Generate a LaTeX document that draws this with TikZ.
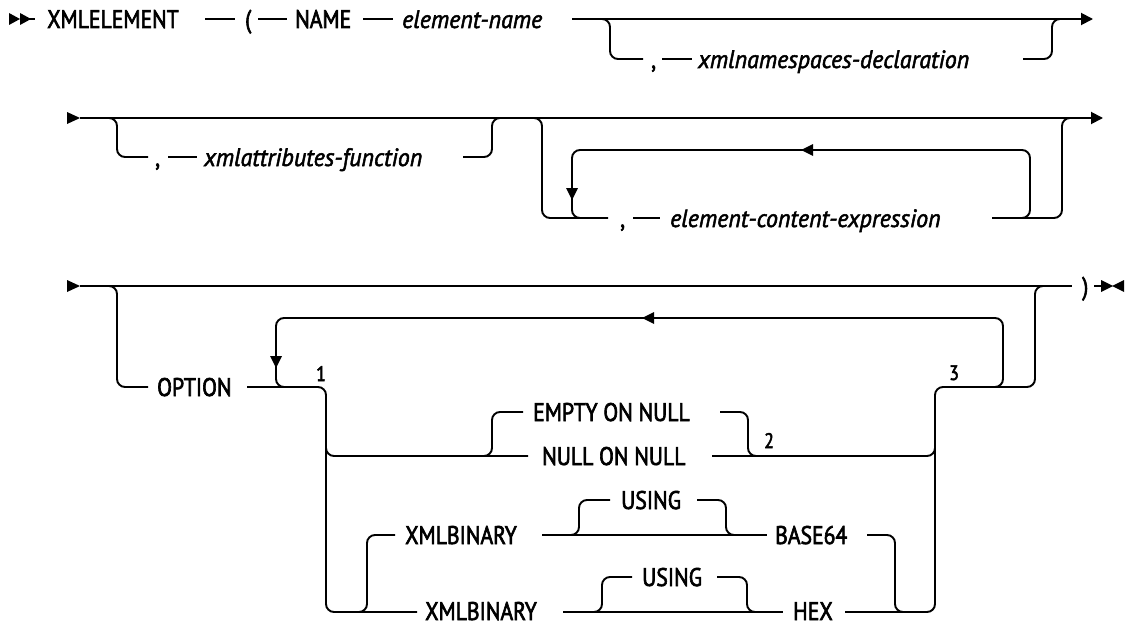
\documentclass[tikz,border=0pt]{standalone}
\usepackage{fontspec}
\setmainfont{PT Sans}
\newfontfamily\kwfont{PT Sans}[FakeStretch=0.85,FakeBold=2.5]
\newfontfamily\varfont{PT Sans}[FakeStretch=0.96,FakeBold=2.0]
\usetikzlibrary{arrows.meta}
\begin{document}
\begin{tikzpicture}[x=1pt,y=-1pt,
  rail/.style={line width=1.9pt, rounded corners=8pt},
  tipend/.style={-{Triangle[length=12pt,width=12pt]}},
  kw/.style={anchor=base west, inner sep=0pt, font=\kwfont\fontsize{25.5}{28}\selectfont},
  var/.style={anchor=base west, inner sep=0pt, font=\varfont\itshape\fontsize{25}{28}\selectfont},
  num/.style={anchor=base west, inner sep=0pt, font=\kwfont\fontsize{21}{24}\selectfont}]
\useasboundingbox (0,0) rectangle (1125,626);

% ---------- row 1 ----------
\fill (9,13) -- (20,19) -- (9,25) -- cycle;
\fill (20,13) -- (31,19) -- (20,25) -- cycle;
\draw[rail] (20,19) -- (35,19);
\node[kw] (xmlel) at (47,28) {XMLELEMENT};
\draw[rail] (205,19) -- (235,19);
\node[kw] (lpar) at (245,28) {(};
\draw[rail] (258,19) -- (287,19);
\node[kw] (name) at (295,28) {NAME};
\draw[rail] (363,19) -- (393,19);
\node[var] (elname) at (402,28) {element-name};
\draw[rail,tipend] (572,19) -- (1093,19);
\draw[rail] (598,19) -- (610,19) -- (610,59) -- (643,59);
\node[kw] (c1) at (651,68) {,};
\draw[rail] (662,59) -- (692,59);
\node[var] (nsdecl) at (698,68) {xmlnamespaces-declaration};
\draw[rail] (1023,59) -- (1052,59) -- (1052,19) -- (1064,19);

% ---------- row 2 ----------
\fill (67,112) -- (80,118) -- (67,124) -- cycle;
\draw[rail,tipend] (80,118) -- (1103,118);
\draw[rail] (105,118) -- (117,118) -- (117,157) -- (148,157);
\node[kw] (c2) at (155,166) {,};
\draw[rail] (168,157) -- (197,157);
\node[var] (attrfn) at (204,166) {xmlattributes-function};
\draw[rail] (463,157) -- (492,157) -- (492,118) -- (504,118);
\draw[rail] (530,118) -- (542,118) -- (542,218) -- (608,218);
\draw[rail] (1018,218) -- (1030,218) -- (1030,150) -- (572,150) -- (572,218) -- (584,218);
\fill (813,144) -- (801,150) -- (813,156) -- cycle;
\fill (566,188) -- (572,200) -- (578,188) -- cycle;
\node[kw] (c3) at (620,227) {,};
\draw[rail] (633,218) -- (660,218);
\node[var] (contexpr) at (670,227) {element-content-expression};
\draw[rail] (992,218) -- (1062,218) -- (1062,118) -- (1074,118);

% ---------- row 3 ----------
\fill (67,280) -- (80,286) -- (67,292) -- cycle;
\draw[rail] (80,286) -- (1072,286);
\node[kw] (rpar) at (1082,295) {)};
\draw[rail] (1094,286) -- (1104,286);
\fill (1101,280) -- (1113,286) -- (1101,292) -- cycle;
\fill (1124,280) -- (1112,286) -- (1124,292) -- cycle;

\draw[rail] (105,286) -- (117,286) -- (117,387) -- (148,387);
\node[kw] (option) at (157,396) {OPTION};
\draw[rail] (247,387) -- (326,387) -- (326,612) -- (417,612);
\draw[rail] (990,387) -- (1003,387) -- (1003,318) -- (276,318) -- (276,387) -- (290,387);
\fill (654,312) -- (642,318) -- (654,324) -- cycle;
\fill (270,356) -- (276,368) -- (282,356) -- cycle;
\node[num] (n1) at (316,381) {1};
\node[num] (n3) at (949,380) {3};

% NULL handling
\draw[rail] (326,440) -- (326,456) -- (528,456);
\draw[rail] (480,456) -- (492,456) -- (492,412) -- (523,412);
\node[kw] (empty) at (533,421) {EMPTY ON NULL};
\draw[rail] (720,412) -- (748,412) -- (748,456) -- (760,456);
\node[kw] (nullon) at (542,465) {NULL ON NULL};
\draw[rail] (712,456) -- (935,456) -- (935,444);
\node[num] (n2) at (764,448) {2};

% right side of the choice
\draw[rail] (845,612) -- (935,612) -- (935,387) -- (1035,387) -- (1035,286) -- (1047,286);

% XMLBINARY BASE64
\draw[rail] (395,535) -- (367,535) -- (367,612) -- (355,612);
\node[kw] (xb1) at (405,544) {XMLBINARY};
\draw[rail] (542,535) -- (767,535);
\draw[rail] (567,535) -- (579,535) -- (579,500) -- (610,500);
\node[kw] (using1) at (621,509) {USING};
\draw[rail] (697,500) -- (726,500) -- (726,535) -- (738,535);
\node[kw] (base64) at (775,544) {BASE64};
\draw[rail] (867,535) -- (895,535) -- (895,612) -- (907,612);

% XMLBINARY HEX
\node[kw] (xb2) at (425,620) {XMLBINARY};
\draw[rail] (563,612) -- (783,612);
\draw[rail] (590,612) -- (602,612) -- (602,577) -- (632,577);
\node[kw] (using2) at (642,586) {USING};
\draw[rail] (717,577) -- (747,577) -- (747,612) -- (759,612);
\node[kw] (hex) at (793,620) {HEX};
\end{tikzpicture}
\end{document}
